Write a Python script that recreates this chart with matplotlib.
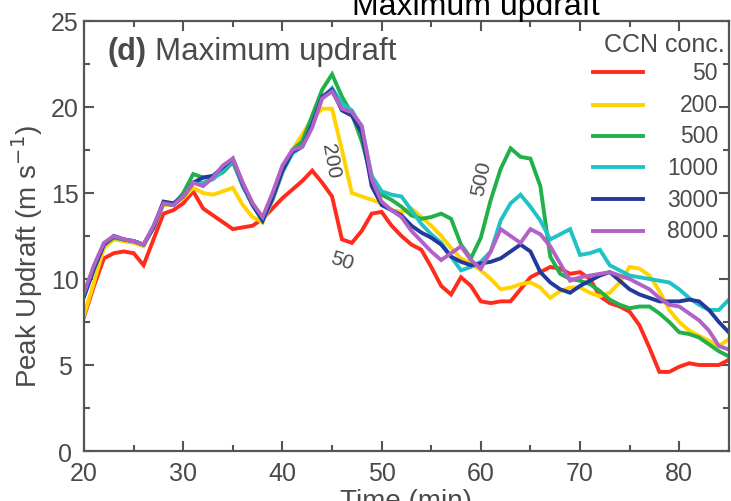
import numpy as np
import matplotlib
matplotlib.use("Agg")
import matplotlib.pyplot as plt
from matplotlib.ticker import MultipleLocator

plt.rcParams['font.family'] = ['Liberation Sans', 'DejaVu Sans']

# model time (min), one value per minute
time_min = np.arange(20, 86)

ccn_labels = ['50', '200', '500', '1000', '3000', '8000']
ccn_colors = ['#ff2b1c', '#ffd200', '#22b04b', '#1fc3c6', '#233a9b', '#b162c7']

w_50 = [7.8, 9.6, 11.2, 11.5, 11.6, 11.5, 10.8, 12.3, 13.8, 14.0,
        14.4, 15.1, 14.1, 13.7, 13.3, 12.9, 13.0, 13.1, 13.5, 14.1,
        14.7, 15.2, 15.7, 16.3, 15.6, 14.8, 12.3, 12.1, 12.8, 13.8,
        13.9, 13.1, 12.5, 12.0, 11.7, 10.7, 9.6, 9.1, 10.1, 9.6,
        8.7, 8.6, 8.7, 8.7, 9.4, 10.1, 10.4, 10.7, 10.6, 10.3,
        10.4, 10.0, 9.0, 8.6, 8.4, 8.1, 7.3, 6.0, 4.6, 4.6,
        4.9, 5.1, 5.0, 5.0, 5.0, 5.3]
w_200 = [7.9, 9.8, 11.8, 12.3, 12.2, 12.1, 11.9, 13.0, 14.3, 14.3,
         14.7, 15.3, 15.0, 14.9, 15.1, 15.3, 14.3, 13.6, 13.3, 14.6,
         16.2, 17.5, 18.4, 19.3, 19.9, 19.9, 17.5, 15.0, 14.8, 14.6,
         14.4, 14.0, 13.9, 14.1, 13.6, 13.1, 12.5, 11.8, 11.2, 10.9,
         10.5, 10.0, 9.4, 9.5, 9.7, 9.8, 9.5, 8.9, 9.3, 9.5,
         9.5, 9.2, 9.0, 9.2, 9.8, 10.7, 10.6, 10.2, 9.3, 8.2,
         7.5, 7.0, 6.7, 6.4, 6.1, 6.5]
w_500 = [9.0, 10.6, 12.0, 12.4, 12.3, 12.2, 12.0, 13.0, 14.4, 14.3,
         15.0, 16.1, 15.9, 15.9, 16.2, 16.8, 15.4, 14.3, 13.4, 14.8,
         16.4, 17.5, 18.0, 19.5, 21.0, 21.9, 20.6, 19.6, 18.0, 15.9,
         14.9, 14.6, 14.2, 13.7, 13.5, 13.6, 13.8, 13.5, 12.0, 11.2,
         12.4, 14.6, 16.4, 17.6, 17.1, 17.0, 15.4, 11.3, 10.3, 10.0,
         9.9, 9.7, 9.3, 8.8, 8.5, 8.3, 8.4, 8.4, 8.0, 7.5,
         6.9, 6.8, 6.6, 6.2, 5.8, 5.5]
w_1000 = [9.0, 10.6, 12.0, 12.5, 12.3, 12.2, 12.0, 13.0, 14.4, 14.3,
          14.8, 15.6, 15.6, 15.8, 16.3, 16.9, 15.4, 14.3, 13.4, 14.6,
          16.2, 17.3, 17.7, 19.0, 20.5, 21.1, 20.2, 19.8, 18.8, 16.0,
          15.1, 14.9, 14.8, 14.0, 13.2, 12.6, 12.1, 11.3, 10.5, 10.7,
          11.0, 11.6, 13.4, 14.4, 14.9, 14.2, 13.4, 12.3, 12.6, 12.9,
          11.4, 11.5, 11.7, 10.8, 10.5, 10.2, 10.1, 10.0, 9.9, 9.8,
          9.4, 8.9, 8.5, 8.2, 8.2, 8.8]
w_3000 = [9.0, 10.6, 12.0, 12.5, 12.3, 12.2, 12.0, 13.0, 14.5, 14.4,
          14.8, 15.6, 15.9, 16.0, 16.5, 17.0, 15.5, 14.3, 13.4, 14.7,
          16.3, 17.4, 17.7, 19.0, 20.6, 21.0, 19.8, 19.5, 18.5, 15.4,
          14.3, 14.0, 13.7, 13.1, 12.7, 12.4, 12.0, 11.3, 11.0, 10.8,
          10.9, 11.0, 11.2, 11.6, 12.0, 11.6, 10.4, 9.8, 9.4, 9.2,
          9.6, 9.9, 10.2, 10.4, 9.9, 9.4, 9.1, 8.9, 8.7, 8.7,
          8.7, 8.8, 8.7, 8.2, 7.5, 6.9]
w_8000 = [9.2, 10.8, 12.1, 12.5, 12.3, 12.2, 12.0, 13.1, 14.4, 14.3,
          14.8, 15.6, 15.4, 15.9, 16.6, 17.0, 15.6, 14.4, 13.6, 15.0,
          16.6, 17.5, 17.7, 18.8, 20.5, 20.9, 19.9, 19.7, 18.9, 15.8,
          14.5, 14.0, 13.6, 12.8, 12.2, 11.6, 11.1, 11.5, 11.9, 11.1,
          10.6, 11.6, 12.9, 12.5, 12.1, 12.9, 12.6, 11.9, 10.9, 9.9,
          10.1, 10.2, 10.3, 10.4, 10.2, 10.0, 9.7, 9.4, 8.9, 8.5,
          8.4, 8.0, 7.6, 7.0, 6.1, 5.9]

series = [w_50, w_200, w_500, w_1000, w_3000, w_8000]

txt_gray = '#4a4a4a'
axis_gray = '#555555'

fig = plt.figure(figsize=(7.31, 5.02), dpi=100)
ax = fig.add_axes([0.115, 0.0996, 0.882, 0.8566])

for vals, col in zip(series, ccn_colors):
    ax.plot(time_min, vals, color=col, lw=2.8, solid_joinstyle='miter')

ax.set_xlim(20, 85)
ax.set_ylim(0, 25)
ax.xaxis.set_major_locator(MultipleLocator(10))
ax.xaxis.set_minor_locator(MultipleLocator(5))
ax.yaxis.set_major_locator(MultipleLocator(5))
ax.yaxis.set_minor_locator(MultipleLocator(2.5))
ax.tick_params(which='both', direction='in', top=True, right=True,
               colors=axis_gray, labelcolor=txt_gray, width=1.5)
ax.tick_params(which='major', length=7, labelsize=18)
ax.tick_params(which='minor', length=4.5)
ax.tick_params(axis='x', which='major', pad=7)
ax.tick_params(axis='y', which='major', pad=14)
for lbl in ax.get_yticklabels():
    lbl.set_horizontalalignment('center')
for sp in ax.spines.values():
    sp.set_color(axis_gray)
    sp.set_linewidth(1.6)

ax.set_ylabel('Peak Updraft (m s$^{-1}$)', fontsize=20, color=txt_gray)
ax.yaxis.set_label_coords(-0.060, 0.455)
ax.set_xlabel('Time (min)', fontsize=20, color=txt_gray, labelpad=2)

# panel label
ax.text(0.037, 0.930, '(d)', transform=ax.transAxes, fontsize=22,
        fontweight='bold', color=txt_gray, va='center')
ax.text(0.110, 0.930, 'Maximum updraft', transform=ax.transAxes, fontsize=22.5,
        color=txt_gray, va='center')

# legend drawn by hand: line on the left, value right-aligned
ax.text(0.993, 0.947, 'CCN conc.', transform=ax.transAxes, fontsize=18,
        color=txt_gray, ha='right', va='center')
row_y = [0.881, 0.805, 0.733, 0.660, 0.586, 0.512]
for lab, col, yy in zip(ccn_labels, ccn_colors, row_y):
    ax.plot([0.789, 0.867], [yy, yy], transform=ax.transAxes, color=col, lw=2.8)
    ax.text(0.983, yy, lab, transform=ax.transAxes, fontsize=16.5,
            color=txt_gray, ha='right', va='center')

# inline curve labels
ax.text(44.8, 16.9, '200', fontsize=15, color=txt_gray, rotation=-80,
        ha='center', va='center')
ax.text(46.0, 11.1, '50', fontsize=15, color=txt_gray, rotation=-18,
        ha='center', va='center')
ax.text(60.1, 15.9, '500', fontsize=15, color=txt_gray, rotation=78,
        ha='center', va='center')

fig.text(0.651, 1 - 15 / 502, 'Maximum updraft', fontsize=23, color='black',
         ha='center', va='baseline')

fig.savefig('out.png', dpi=100)
